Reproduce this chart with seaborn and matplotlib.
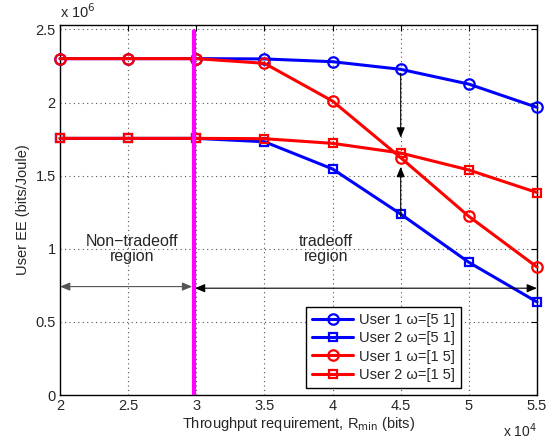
import matplotlib
matplotlib.use("Agg")
import matplotlib.pyplot as plt
import seaborn as sns
import numpy as np
import pandas as pd

# Data (x in units of 1e4 bits, y in units of 1e6 bits/Joule)
rmin = [2.0, 2.5, 3.0, 3.5, 4.0, 4.5, 5.0, 5.5]
user1_w51 = [2.30, 2.30, 2.30, 2.298, 2.279, 2.227, 2.126, 1.967]
user2_w51 = [1.755, 1.755, 1.755, 1.732, 1.546, 1.238, 0.908, 0.637]
user1_w15 = [2.30, 2.30, 2.30, 2.268, 2.010, 1.623, 1.222, 0.876]
user2_w15 = [1.755, 1.755, 1.755, 1.753, 1.721, 1.655, 1.539, 1.385]
labels = ["User 1 ω=[5 1]", "User 2 ω=[5 1]", "User 1 ω=[1 5]", "User 2 ω=[1 5]"]
boundary = 2.98

sns.set_style("white")
plt.rcParams['font.family'] = ['Liberation Sans', 'DejaVu Sans']

fig = plt.figure(figsize=(5.53, 4.43), dpi=100)
ax = fig.add_axes([0.1085, 0.108, 0.8625, 0.8356])

series = [user1_w51, user2_w51, user1_w15, user2_w15]
colors = ["#0000ff", "#0000ff", "#ff0000", "#ff0000"]
markers = ["o", "s", "o", "s"]
msizes = [7.5, 5.5, 7.5, 5.5]
for vals, lab, c, m, ms in zip(series, labels, colors, markers, msizes):
    df = pd.DataFrame({"x": rmin, "y": vals})
    sns.lineplot(data=df, x="x", y="y", ax=ax, color=c, marker=m, markersize=ms,
                 markerfacecolor="none", markeredgecolor=c, markeredgewidth=1.6,
                 linewidth=2.2, label=lab, zorder=3, clip_on=False)

ax.axvline(boundary, ymin=0, ymax=2.49 / 2.53, color="#ff00ff", lw=3, zorder=4)

ax.set_xlim(2, 5.5)
ax.set_ylim(0, 2.53)
ax.set_xticks([2, 2.5, 3, 3.5, 4, 4.5, 5, 5.5])
ax.set_xticklabels(["2", "2.5", "3", "3.5", "4", "4.5", "5", "5.5"])
ax.set_yticks([0, 0.5, 1, 1.5, 2, 2.5])
ax.set_yticklabels(["0", "0.5", "1", "1.5", "2", "2.5"])
ax.tick_params(direction="in", top=True, right=True, labelsize=10.5, length=4, color="black", pad=3)
ax.grid(True, ls=(0, (1, 3)), color="#555555", lw=0.8)
for s in ax.spines.values():
    s.set_color("black")
    s.set_linewidth(1.0)

ax.set_xlabel("Throughput requirement, R$_{\\mathrm{min}}$ (bits)", fontsize=10.5, labelpad=1)
ax.set_ylabel("User EE (bits/Joule)", fontsize=10.5, labelpad=4)
ax.text(0.0, 1.012, r"x 10$^{6}$", transform=ax.transAxes, fontsize=10.5, ha="left", va="bottom")
ax.text(1.0, -0.072, r"x 10$^{4}$", transform=ax.transAxes, fontsize=10, ha="right", va="top")

# annotations
ap = dict(arrowstyle="-|>,head_length=0.6,head_width=0.25", color="black", lw=0.8, shrinkA=0, shrinkB=0)
ax.annotate("", xy=(4.5, 1.76), xytext=(4.5, 2.20), arrowprops=ap)
ax.annotate("", xy=(4.5, 1.56), xytext=(4.5, 1.22), arrowprops=ap)
ap2 = dict(arrowstyle="<|-|>,head_length=0.6,head_width=0.25", color="black", lw=0.8, shrinkA=0, shrinkB=0)
ax.annotate("", xy=(2.0, 0.742), xytext=(boundary - 0.01, 0.742),
            arrowprops=dict(ap2, color="#555555"))
ax.annotate("", xy=(boundary + 0.01, 0.731), xytext=(5.5, 0.731), arrowprops=ap2)
ax.text(2.53, 1.0, "Non\u2212tradeoff\nregion", ha="center", va="center", fontsize=11.5, linespacing=1.05)
ax.text(3.95, 1.0, "tradeoff\nregion", ha="center", va="center", fontsize=11.5, linespacing=1.05)

leg = ax.legend(loc="lower right", bbox_to_anchor=(0.84, 0.02), fontsize=10.5,
                frameon=True, fancybox=False, edgecolor="black", framealpha=1,
                handlelength=2.8, borderpad=0.4, labelspacing=0.3, handletextpad=0.4,
                borderaxespad=0)
leg.get_frame().set_linewidth(1.0)

fig.savefig("out.png", dpi=100)
